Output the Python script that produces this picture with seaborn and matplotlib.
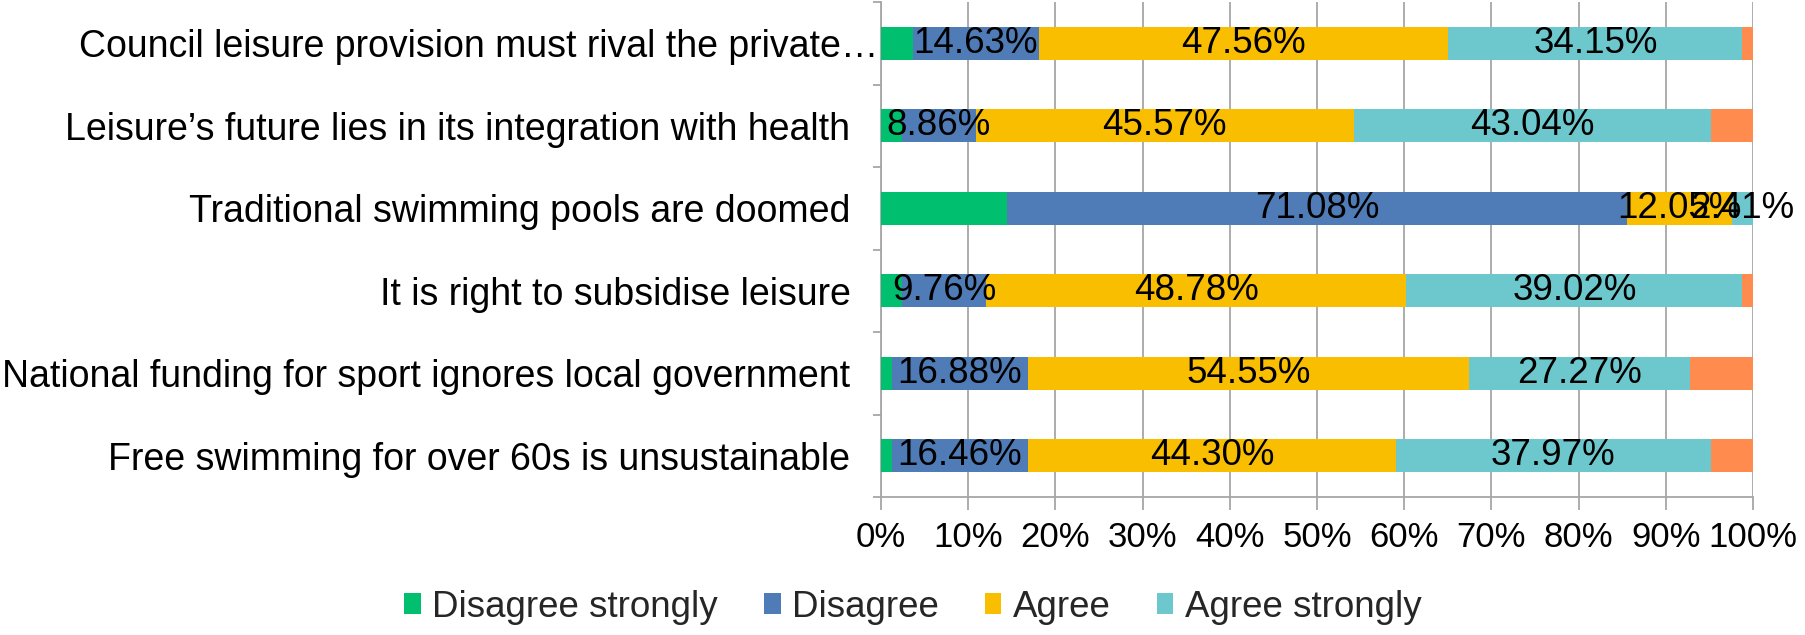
import numpy as np
import pandas as pd
import matplotlib
matplotlib.use("Agg")
import matplotlib.pyplot as plt
import seaborn as sns
from matplotlib.patches import Patch
from matplotlib.ticker import PercentFormatter
from matplotlib.transforms import ScaledTranslation

categories = [
    "Council leisure provision must rival the private\u2026",
    "Leisure\u2019s future lies in its integration with health",
    "Traditional swimming pools are doomed",
    "It is right to subsidise leisure",
    "National funding for sport ignores local government",
    "Free swimming for over 60s is unsustainable",
]
disagree_strongly = [3.66, 2.53, 14.46, 2.44, 1.30, 1.27]
disagree = [14.63, 8.86, 71.08, 9.76, 16.88, 16.46]
agree = [47.56, 45.57, 12.05, 48.78, 54.55, 44.30]
agree_strongly = [34.15, 43.04, 2.41, 39.02, 27.27, 37.97]
no_view = [1.22, 5.06, 0.00, 1.22, 7.79, 5.06]

series_names = ["Disagree strongly", "Disagree", "Agree", "Agree strongly", "No view"]
colors = ["#00BF6F", "#4F7CB6", "#F9BE00", "#6DC8CD", "#FF8B4E"]
labelled = [False, True, True, True, False]
xticks = list(range(0, 101, 10))

sns.set_theme(style="white")
plt.rcParams["font.family"] = ["Liberation Sans", "DejaVu Sans"]

fig = plt.figure(figsize=(18.06, 6.35), dpi=100)
ax = fig.add_axes([881 / 1806, 1 - 497 / 635, 872 / 1806, 495 / 635])

vals = np.array([disagree_strongly, disagree, agree, agree_strongly, no_view])
norm = vals / vals.sum(axis=0) * 100
cum = norm.cumsum(axis=0)

for i in reversed(range(len(series_names))):
    df = pd.DataFrame({"category": categories, "cum": cum[i]})
    sns.barplot(data=df, x="cum", y="category", color=colors[i], orient="h",
                width=0.4, saturation=1, linewidth=0, ax=ax, zorder=3)

for i, name in enumerate(series_names):
    if not labelled[i]:
        continue
    for j in range(len(categories)):
        center = cum[i][j] - norm[i][j] / 2
        ax.text(center, j, f"{vals[i][j]:.2f}%", ha="center", va="center",
                fontsize=26.5, color="black", zorder=5)

ax.set_xlim(0, 100)
ax.set_ylim(5.5, -0.5)
ax.set_xticks(xticks)
ax.xaxis.set_major_formatter(PercentFormatter(decimals=0))
ax.set_xlabel("")
ax.set_ylabel("")
ax.set_axisbelow(True)
ax.xaxis.grid(True, color="#A6A6A6", linewidth=1.3)
ax.yaxis.grid(False)
for s in ["top", "right"]:
    ax.spines[s].set_visible(False)
for s in ["left", "bottom"]:
    ax.spines[s].set_color("#A6A6A6")
    ax.spines[s].set_linewidth(1.3)

ax.tick_params(axis="x", which="major", bottom=True, length=9, width=1.3,
               color="#A6A6A6", labelsize=25, pad=8, labelcolor="black")
ax.tick_params(axis="y", which="major", left=False, length=0, labelsize=27, pad=22,
               labelcolor="black")
ax.set_yticks(np.arange(-0.5, len(categories), 1), minor=True)
ax.tick_params(axis="y", which="minor", left=True, length=6, width=1.3, color="#A6A6A6")

# the truncated first label sits right against the axis, as in the source
first = ax.get_yticklabels()[0]
first.set_transform(first.get_transform() + ScaledTranslation(0.28, 0, fig.dpi_scale_trans))

handles = [Patch(facecolor=c, edgecolor="none") for c in colors[:4]]
fig.legend(handles, series_names[:4], loc="center", bbox_to_anchor=(0.5055, 0.044),
           ncol=4, frameon=False, fontsize=26.5, handlelength=0.45, handleheight=0.5,
           handletextpad=0.31, columnspacing=1.25, borderpad=0.2)

fig.savefig("out.png", dpi=100)
